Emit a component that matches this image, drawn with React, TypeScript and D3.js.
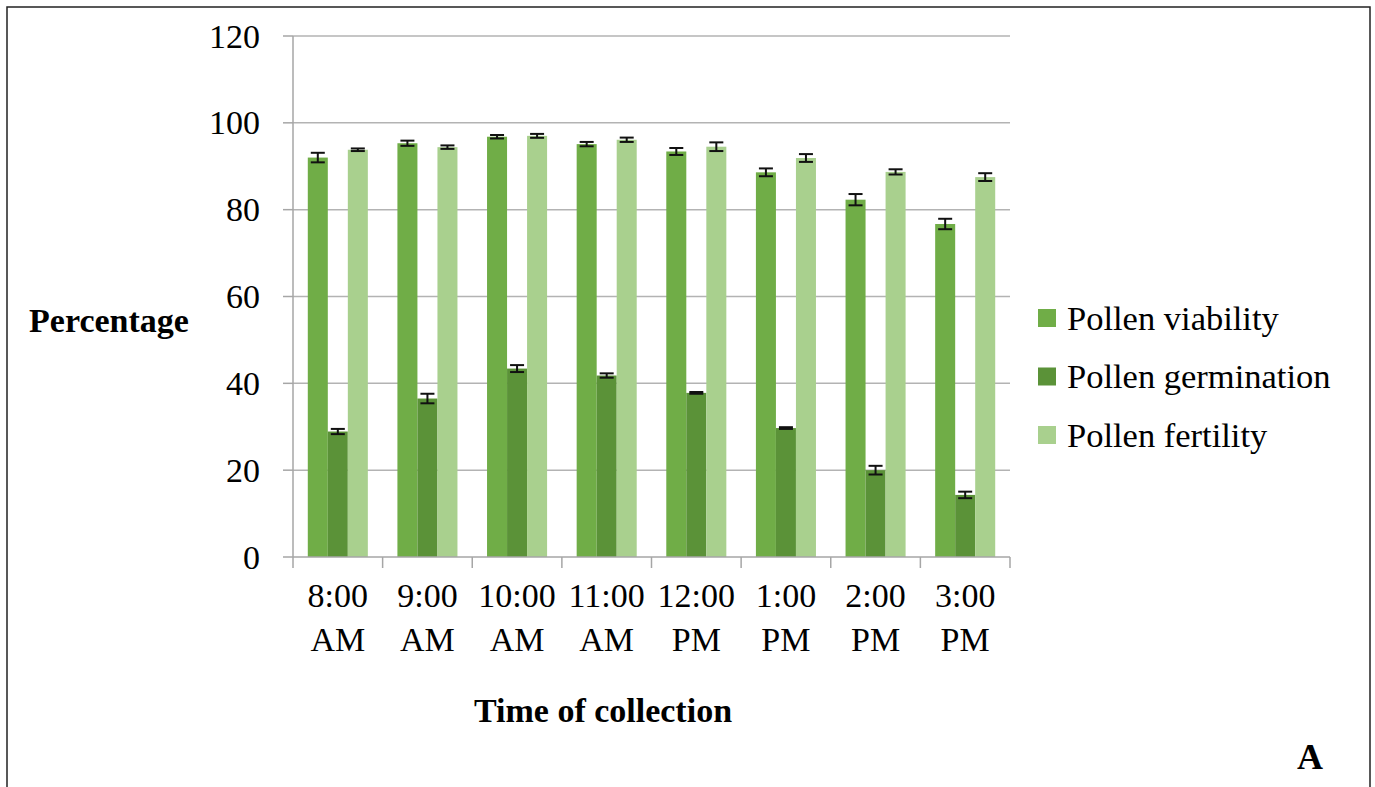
import React, { useEffect, useRef } from "react";
import * as d3 from "d3";

const categories = ["8:00 AM", "9:00 AM", "10:00 AM", "11:00 AM", "12:00 PM", "1:00 PM", "2:00 PM", "3:00 PM"];
const seriesNames = ["Pollen viability", "Pollen germination", "Pollen fertility"];
const viability = [92.0, 95.3, 96.8, 95.1, 93.4, 88.6, 82.3, 76.7];
const viabilityErr = [1.1, 0.6, 0.4, 0.5, 0.8, 0.9, 1.3, 1.2];
const germination = [28.9, 36.5, 43.4, 41.8, 37.8, 29.7, 20.0, 14.3];
const germinationErr = [0.6, 1.1, 0.8, 0.5, 0.2, 0.2, 1.0, 0.75];
const fertility = [93.8, 94.4, 97.0, 96.1, 94.5, 91.9, 88.7, 87.5];
const fertilityErr = [0.3, 0.4, 0.45, 0.5, 1.0, 0.9, 0.6, 0.9];
const yTicks = [0, 20, 40, 60, 80, 100, 120];
const colors = ["#70ad47", "#5b9238", "#a9d08e"];

export default function App() {
	const ref = useRef<SVGSVGElement>(null);

	useEffect(() => {
		const w = 1375;
		const h = 787;
		const left = 293;
		const right = 1010;
		const top = 36;
		const bottom = 557;
		const font = "Liberation Serif, Times New Roman, serif";

		const values = [viability, germination, fertility];
		const errs = [viabilityErr, germinationErr, fertilityErr];

		const svg = d3.select(ref.current);
		svg.selectAll("*").remove();
		svg.attr("width", w).attr("height", h).attr("viewBox", `0 0 ${w} ${h}`);

		svg.append("rect").attr("width", w).attr("height", h).attr("fill", "#fff");
		svg
			.append("rect")
			.attr("x", 7)
			.attr("y", 7)
			.attr("width", 1363)
			.attr("height", 800)
			.attr("fill", "none")
			.attr("stroke", "#222")
			.attr("stroke-width", 1.5);

		// Scales
		const x0 = d3.scaleBand().domain(categories).range([left, right]).paddingInner(0.33).paddingOuter(0.165);
		const x1 = d3.scaleBand().domain(seriesNames).range([0, x0.bandwidth()]);
		const xStep = d3.scaleBand().domain(categories).range([left, right]);
		const y = d3.scaleLinear().domain([0, 120]).range([bottom, top]);

		// Gridlines
		svg
			.append("g")
			.selectAll("line")
			.data(yTicks.filter(t => t > 0))
			.join("line")
			.attr("x1", left)
			.attr("x2", right)
			.attr("y1", d => y(d))
			.attr("y2", d => y(d))
			.attr("stroke", "#b3b3b3")
			.attr("stroke-width", 1.5);

		// Bars
		seriesNames.forEach((name, si) => {
			const g = svg.append("g");
			g.selectAll("rect")
				.data(categories)
				.join("rect")
				.attr("x", d => (x0(d) as number) + (x1(name) as number))
				.attr("y", (d, i) => y(values[si][i]))
				.attr("width", x1.bandwidth())
				.attr("height", (d, i) => bottom - y(values[si][i]))
				.attr("fill", colors[si]);
		});

		// Error bars
		seriesNames.forEach((name, si) => {
			const g = svg.append("g").attr("stroke", "#111").attr("stroke-width", 2);
			categories.forEach((c, i) => {
				const cx = (x0(c) as number) + (x1(name) as number) + x1.bandwidth() / 2;
				const hi = y(values[si][i] + errs[si][i]);
				const lo = y(values[si][i] - errs[si][i]);
				g.append("line").attr("x1", cx).attr("x2", cx).attr("y1", hi).attr("y2", lo);
				g.append("line").attr("x1", cx - 7).attr("x2", cx + 7).attr("y1", hi).attr("y2", hi);
				g.append("line").attr("x1", cx - 7).attr("x2", cx + 7).attr("y1", lo).attr("y2", lo);
			});
		});

		// y-axis
		const yAxis = svg.append("g").attr("transform", `translate(${left},0)`);
		yAxis
			.append("line")
			.attr("x1", 0)
			.attr("x2", 0)
			.attr("y1", top)
			.attr("y2", bottom)
			.attr("stroke", "#a6a6a6")
			.attr("stroke-width", 1.5);
		yAxis
			.selectAll("line.tick")
			.data(yTicks)
			.join("line")
			.attr("class", "tick")
			.attr("x1", -10)
			.attr("x2", 0)
			.attr("y1", d => y(d))
			.attr("y2", d => y(d))
			.attr("stroke", "#a6a6a6")
			.attr("stroke-width", 1.5);
		yAxis
			.selectAll("text")
			.data(yTicks)
			.join("text")
			.attr("x", -33)
			.attr("y", d => y(d))
			.attr("dy", "0.34em")
			.attr("text-anchor", "end")
			.attr("font-family", font)
			.attr("font-size", 34)
			.text(d => d);

		// x-axis
		const xAxis = svg.append("g").attr("transform", `translate(0,${bottom})`);
		xAxis
			.append("line")
			.attr("x1", left)
			.attr("x2", right)
			.attr("stroke", "#a6a6a6")
			.attr("stroke-width", 1.5);
		const boundaries = categories.map(c => xStep(c) as number).concat([right]);
		xAxis
			.selectAll("line.tick")
			.data(boundaries)
			.join("line")
			.attr("class", "tick")
			.attr("x1", d => d)
			.attr("x2", d => d)
			.attr("y1", 0)
			.attr("y2", 11)
			.attr("stroke", "#a6a6a6")
			.attr("stroke-width", 1.5);
		const labels = xAxis
			.selectAll("text")
			.data(categories)
			.join("text")
			.attr("text-anchor", "middle")
			.attr("font-family", font)
			.attr("font-size", 34);
		labels
			.append("tspan")
			.attr("x", d => (xStep(d) as number) + xStep.bandwidth() / 2)
			.attr("y", 50)
			.text(d => d.split(" ")[0]);
		labels
			.append("tspan")
			.attr("x", d => (xStep(d) as number) + xStep.bandwidth() / 2)
			.attr("y", 94)
			.text(d => d.split(" ")[1]);

		// Axis titles
		svg
			.append("text")
			.attr("x", 109)
			.attr("y", 320)
			.attr("dy", "0.34em")
			.attr("text-anchor", "middle")
			.attr("font-family", font)
			.attr("font-weight", "bold")
			.attr("font-size", 34)
			.text("Percentage");

		svg
			.append("text")
			.attr("x", 603)
			.attr("y", 710)
			.attr("dy", "0.34em")
			.attr("text-anchor", "middle")
			.attr("font-family", font)
			.attr("font-weight", "bold")
			.attr("font-size", 34)
			.text("Time of collection");

		svg
			.append("text")
			.attr("x", 1310)
			.attr("y", 757)
			.attr("dy", "0.34em")
			.attr("text-anchor", "middle")
			.attr("font-family", font)
			.attr("font-weight", "bold")
			.attr("font-size", 36)
			.text("A");

		// Legend
		const legend = svg.append("g");
		seriesNames.forEach((name, i) => {
			const ly = 318 + i * 58.5;
			legend
				.append("rect")
				.attr("x", 1038)
				.attr("y", ly - 9)
				.attr("width", 18)
				.attr("height", 18)
				.attr("fill", colors[i]);
			legend
				.append("text")
				.attr("x", 1067)
				.attr("y", ly)
				.attr("dy", "0.34em")
				.attr("font-family", font)
				.attr("font-size", 34.5)
				.text(name);
		});
	}, []);

	return <svg ref={ref} style={{ position: "absolute", left: 0, top: 0, display: "block" }}></svg>;
}
